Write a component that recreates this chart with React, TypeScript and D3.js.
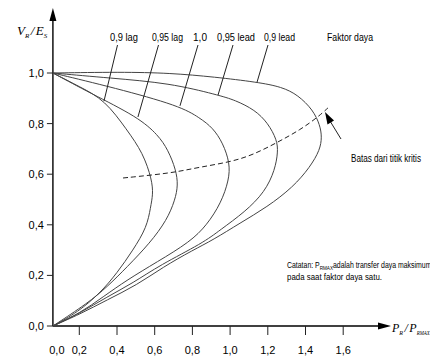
import React, { useEffect, useRef } from 'react';
import * as d3 from 'd3';

// [P_R/P_RMAX, V_R/E_S] points
const lag090: [number, number][] = [
  [0.06, 1.0], [0.204, 0.945], [0.336, 0.893], [0.453, 0.775], [0.538, 0.684],
  [0.586, 0.577], [0.591, 0.52], [0.578, 0.47], [0.559, 0.391], [0.485, 0.3],
  [0.4, 0.209], [0.31, 0.13], [0.193, 0.055], [0.06, 0.0],
];
const lag095: [number, number][] = [
  [0.06, 1.0], [0.257, 0.921], [0.511, 0.826], [0.618, 0.755], [0.671, 0.696],
  [0.713, 0.617], [0.724, 0.557], [0.708, 0.498], [0.665, 0.419], [0.575, 0.328],
  [0.453, 0.233], [0.347, 0.154], [0.246, 0.091], [0.06, 0.0],
];
const unity: [number, number][] = [
  [0.06, 1.0], [0.389, 0.941], [0.734, 0.87], [0.84, 0.822], [0.909, 0.783],
  [0.962, 0.723], [0.999, 0.644], [0.994, 0.577], [0.952, 0.486], [0.877, 0.399],
  [0.787, 0.332], [0.612, 0.253], [0.453, 0.182], [0.326, 0.115], [0.204, 0.051], [0.06, 0.0],
];
const lead095: [number, number][] = [
  [0.06, 1.0], [0.363, 0.98], [0.681, 0.96], [0.936, 0.913], [1.026, 0.893],
  [1.132, 0.854], [1.201, 0.802], [1.249, 0.735], [1.254, 0.688], [1.238, 0.617],
  [1.185, 0.53], [1.079, 0.451], [0.946, 0.379], [0.856, 0.328], [0.628, 0.241],
  [0.485, 0.17], [0.347, 0.115], [0.204, 0.051], [0.06, 0.0],
];
const lead090: [number, number][] = [
  [0.06, 1.0], [0.416, 1.004], [0.681, 1.0], [0.92, 0.984], [1.143, 0.964],
  [1.275, 0.945], [1.36, 0.913], [1.44, 0.854], [1.477, 0.794], [1.487, 0.747],
  [1.477, 0.696], [1.424, 0.628], [1.334, 0.549], [1.196, 0.47], [1.053, 0.407],
  [0.909, 0.34], [0.803, 0.3], [0.644, 0.233], [0.506, 0.162], [0.347, 0.103],
  [0.204, 0.047], [0.06, 0.0],
];
const critical: [number, number][] = [
  [0.432, 0.585], [0.591, 0.597], [0.718, 0.609], [0.84, 0.628], [0.999, 0.648],
  [1.121, 0.676], [1.254, 0.727], [1.371, 0.775], [1.466, 0.826], [1.519, 0.862],
];

const curveNames = ['0,9 lag', '0,95 lag', '1,0', '0,95 lead', '0,9 lead'];
const curves = [lag090, lag095, unity, lead095, lead090];
// where each label's leader line touches its curve
const leaderEnds: [number, number][] = [
  [0.331, 0.889], [0.511, 0.826], [0.734, 0.87], [0.936, 0.913], [1.143, 0.964],
];

const xTicks = [0.2, 0.4, 0.6, 0.8, 1.0, 1.2, 1.4, 1.6];
const yTicks = [0.0, 0.2, 0.4, 0.6, 0.8, 1.0];
const fmt = (d: number) => d.toFixed(1).replace('.', ',');

const App = () => {
  const ref = useRef<SVGSVGElement>(null);

  useEffect(() => {
    const svg = d3.select(ref.current);
    svg.selectAll('*').remove();

    const x = d3.scaleLinear().domain([0, 1.6]).range([41.6, 343.2]);
    const y = d3.scaleLinear().domain([0, 1]).range([326, 73]);
    const x0 = x(0.06);
    const y0 = y(0);
    const sans = "'Liberation Sans', Arial, sans-serif";
    const serif = "'Liberation Serif', 'Times New Roman', serif";

    // axes
    svg.append('line').attr('x1', x0).attr('x2', 380).attr('y1', y0).attr('y2', y0)
      .attr('stroke', '#000').attr('stroke-width', 1.4);
    svg.append('line').attr('x1', x0).attr('x2', x0).attr('y1', y0).attr('y2', 20)
      .attr('stroke', '#000').attr('stroke-width', 1.4);
    svg.append('path').attr('d', `M${x0},8 L${x0 - 3.5},21 L${x0 + 3.5},21 Z`).attr('fill', '#000');
    svg.append('path').attr('d', `M391,${y0} L378,${y0 - 3.5} L378,${y0 + 3.5} Z`).attr('fill', '#000');

    svg.selectAll('.xt').data(xTicks).enter().append('line')
      .attr('x1', d => x(d)).attr('x2', d => x(d)).attr('y1', y0).attr('y2', y0 + 9)
      .attr('stroke', '#222').attr('stroke-width', 1);
    svg.selectAll('.xl').data(xTicks).enter().append('text')
      .attr('x', d => x(d)).attr('y', 354).attr('text-anchor', 'middle')
      .attr('font-family', sans).attr('font-size', 11).text(d => fmt(d));
    svg.append('text').attr('x', x0 + 4).attr('y', 354).attr('text-anchor', 'middle')
      .attr('font-family', sans).attr('font-size', 11).text(fmt(0));

    svg.selectAll('.yt').data(yTicks).enter().append('line')
      .attr('x1', x0 - 6).attr('x2', x0).attr('y1', d => y(d)).attr('y2', d => y(d))
      .attr('stroke', '#222').attr('stroke-width', 1);
    svg.selectAll('.yl').data(yTicks).enter().append('text')
      .attr('x', x0 - 9).attr('y', d => y(d) + 4).attr('text-anchor', 'end')
      .attr('font-family', sans).attr('font-size', 11).text(d => fmt(d));

    // axis titles
    const yt = svg.append('text').attr('x', 17).attr('y', 35)
      .attr('font-family', serif).attr('font-style', 'italic').attr('font-size', 13);
    yt.append('tspan').text('V');
    yt.append('tspan').attr('font-size', 7).attr('dy', 3).text('R');
    yt.append('tspan').attr('dy', -3).attr('dx', 1.5).text('/');
    yt.append('tspan').attr('dx', 1.5).text('E');
    yt.append('tspan').attr('font-size', 7).attr('dy', 3).text('S');

    const xt = svg.append('text').attr('x', 392).attr('y', 332)
      .attr('font-family', serif).attr('font-style', 'italic').attr('font-size', 12);
    xt.append('tspan').text('P');
    xt.append('tspan').attr('font-size', 6).attr('dy', 3).text('R');
    xt.append('tspan').attr('dy', -3).attr('dx', 1.5).text('/');
    xt.append('tspan').attr('dx', 1.5).text('P');
    xt.append('tspan').attr('font-size', 5.5).attr('dy', 3).attr('textLength', 13)
      .attr('lengthAdjust', 'spacingAndGlyphs').text('RMAX');

    // curves
    const line = d3.line<[number, number]>()
      .x(d => x(d[0])).y(d => y(d[1]))
      .curve(d3.curveBasis);
    svg.selectAll('.curve').data(curves).enter().append('path')
      .attr('d', d => line(d)).attr('fill', 'none')
      .attr('stroke', '#444').attr('stroke-width', 1);

    svg.append('path').attr('d', line(critical)).attr('fill', 'none')
      .attr('stroke', '#222').attr('stroke-width', 1).attr('stroke-dasharray', '5,3');

    // labels and leaders
    const labelX = [110, 152, 193, 217, 264];
    const labelW = [28, 31, 14, 38, 31];
    const leaderTop = [117.5, 158.5, 198, 233, 268];
    curveNames.forEach((name, i) => {
      svg.append('text').attr('x', labelX[i]).attr('y', 41)
        .attr('textLength', labelW[i]).attr('lengthAdjust', 'spacingAndGlyphs')
        .attr('font-family', sans).attr('font-size', 11).text(name);
      svg.append('line').attr('x1', leaderTop[i]).attr('y1', 45)
        .attr('x2', x(leaderEnds[i][0])).attr('y2', y(leaderEnds[i][1]))
        .attr('stroke', '#222').attr('stroke-width', 1);
    });
    svg.append('text').attr('x', 327).attr('y', 41)
      .attr('textLength', 46).attr('lengthAdjust', 'spacingAndGlyphs')
      .attr('font-family', sans).attr('font-size', 11).text('Faktor daya');

    // critical-point annotation
    svg.append('line').attr('x1', 341).attr('y1', 139).attr('x2', 330).attr('y2', 121)
      .attr('stroke', '#222').attr('stroke-width', 1);
    svg.append('path').attr('d', 'M325,112 L327.5,124.5 L334,120.5 Z').attr('fill', '#000');
    svg.append('text').attr('transform', 'translate(351,162) scale(0.74,1)')
      .attr('font-family', sans).attr('font-size', 11).text('Batas dari titik kritis');

    const note = svg.append('text').attr('transform', 'translate(287,268) scale(0.77,1)')
      .attr('font-family', sans).attr('font-size', 9);
    note.append('tspan').text('Catatan: P');
    note.append('tspan').attr('font-size', 6).attr('dy', 2).text('RMAX');
    note.append('tspan').attr('dy', -2).text('adalah transfer daya maksimum');
    svg.append('text').attr('x', 287).attr('y', 280)
      .attr('textLength', 95).attr('lengthAdjust', 'spacingAndGlyphs')
      .attr('font-family', sans).attr('font-size', 9).text('pada saat faktor daya satu.');
  }, []);

  return (
    <svg ref={ref} width={430} height={356}
      style={{ position: 'absolute', left: 0, top: 0, background: '#fff' }} />
  );
};

export default App;
